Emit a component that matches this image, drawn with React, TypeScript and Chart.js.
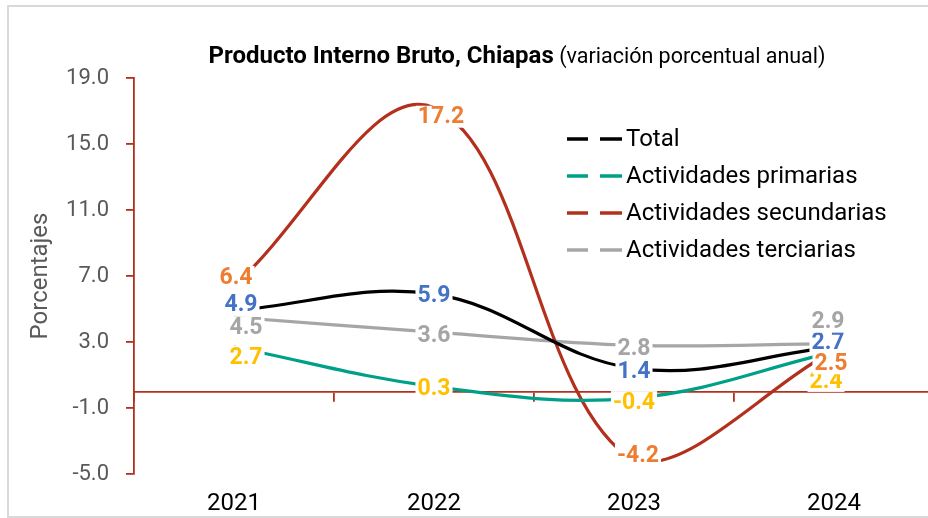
import React, { useEffect, useRef } from "react";
import { Chart, registerables } from "chart.js";

Chart.register(...registerables);

// ---- data ----
const years = ["2021", "2022", "2023", "2024"];
const total = [4.9, 5.9, 1.4, 2.7];
const primarias = [2.7, 0.3, -0.4, 2.4];
const secundarias = [6.4, 17.2, -4.2, 2.5];
const terciarias = [4.5, 3.6, 2.8, 2.9];
const seriesNames = [
  "Total",
  "Actividades primarias",
  "Actividades secundarias",
  "Actividades terciarias",
];
const yTickValues = [-5, -1, 3, 7, 11, 15, 19];
const titleBold = "Producto Interno Bruto, Chiapas";
const titleRegular = " (variación porcentual anual)";
const yTitle = "Porcentajes";

// ---- styles ----
const lineColors = ["#000000", "#00A088", "#B3301C", "#A6A6A6"];
const labelColors = ["#4472C4", "#FFC000", "#ED7D31", "#A5A5A5"];
const axisRed = "#B3301C";
// label offsets (dx, dy) relative to each point
const labelOffsets: number[][][] = [
  [[7, -6], [0, 1], [0, 3], [-6, -5]],
  [[12, 10], [0, 2], [0, 4], [-8, 29]],
  [[2, -9], [7, 9], [4, -6], [-3, 13]],
  [[12, 10], [0, 3], [0, 3], [-6, -22]],
];

const decor = {
  id: "decor",
  afterDatasetsDraw(chart: any) {
    const ctx = chart.ctx;
    ctx.save();
    ctx.font = "bold 23px Roboto";
    ctx.textAlign = "center";
    ctx.textBaseline = "middle";
    chart.data.datasets.forEach((ds: any, i: number) => {
      const meta = chart.getDatasetMeta(i);
      meta.data.forEach((el: any, j: number) => {
        const v = ds.data[j] as number;
        const txt = v.toFixed(1);
        const [dx, dy] = labelOffsets[i][j];
        const x = el.x + dx;
        const y = el.y + dy;
        const w = ctx.measureText(txt).width;
        ctx.fillStyle = "#ffffff";
        ctx.fillRect(x - w / 2 - 2, y - 11, w + 4, 22);
        ctx.fillStyle = labelColors[i];
        ctx.fillText(txt, x, y + 1);
      });
    });
    ctx.restore();
  },
  afterDraw(chart: any) {
    const ctx = chart.ctx;
    ctx.save();
    // title
    ctx.textBaseline = "alphabetic";
    ctx.textAlign = "left";
    ctx.font = "bold 24px Roboto";
    const wb = ctx.measureText(titleBold).width;
    ctx.font = "21.5px Roboto";
    const wr = ctx.measureText(titleRegular).width;
    const tx = 517 - (wb + wr) / 2;
    ctx.fillStyle = "#000";
    ctx.font = "bold 24px Roboto";
    ctx.fillText(titleBold, tx, 63);
    ctx.font = "21.5px Roboto";
    ctx.fillText(titleRegular, tx + wb, 63);

    // y title
    ctx.save();
    ctx.translate(41, 276);
    ctx.rotate(-Math.PI / 2);
    ctx.textAlign = "center";
    ctx.textBaseline = "middle";
    ctx.font = "24px Roboto";
    ctx.fillStyle = "#595959";
    ctx.fillText(yTitle, 0, 0);
    ctx.restore();

    // legend
    ctx.font = "24px Roboto";
    ctx.textBaseline = "middle";
    ctx.textAlign = "left";
    chart.data.datasets.forEach((ds: any, i: number) => {
      const y = 139 + 37 * i;
      ctx.strokeStyle = ds.borderColor;
      ctx.lineWidth = 3.5;
      ctx.beginPath();
      ctx.moveTo(567, y);
      ctx.lineTo(588, y);
      ctx.moveTo(600, y);
      ctx.lineTo(622, y);
      ctx.stroke();
      ctx.fillStyle = "#000";
      ctx.fillText(ds.label, 626, y + 1);
    });
    ctx.restore();
  },
};

export default function App() {
  const ref = useRef<HTMLCanvasElement | null>(null);
  useEffect(() => {
    if (!ref.current) return;
    const series = [total, primarias, secundarias, terciarias];
    const chart = new Chart(ref.current, {
      type: "line",
      data: {
        labels: years,
        datasets: series.map((d, i) => ({
          label: seriesNames[i],
          data: d,
          borderColor: lineColors[i],
          backgroundColor: lineColors[i],
          borderWidth: 3.2,
          pointRadius: 0,
          tension: 0.38,
          fill: false,
        })),
      },
      options: {
        animation: false,
        responsive: false,
        devicePixelRatio: 1,
        layout: { padding: { top: 78, left: 0, right: 6, bottom: 0 } },
        plugins: {
          legend: { display: false },
          title: { display: false },
          tooltip: { enabled: false },
        },
        scales: {
          x: {
            type: "category",
            position: "bottom",
            offset: true,
            grid: { display: false, drawTicks: false },
            border: { display: false },
            ticks: {
              color: "#000",
              font: { family: "Roboto", size: 24 },
              padding: 16,
              maxRotation: 0,
            },
            afterFit: (s: any) => {
              s.height = 44;
            },
          },
          x2: {
            type: "category",
            position: { y: 0 },
            offset: true,
            grid: {
              display: true,
              offset: true,
              drawOnChartArea: false,
              drawTicks: true,
              tickLength: 9,
              color: axisRed,
              lineWidth: 1.8,
            },
            border: { display: true, color: axisRed, width: 1.8 },
            ticks: { display: false },
          },
          y: {
            type: "linear",
            min: -5,
            max: 19,
            afterBuildTicks: (s: any) => {
              s.ticks = yTickValues.map((v) => ({ value: v }));
            },
            grid: {
              display: true,
              drawOnChartArea: false,
              drawTicks: true,
              tickLength: 8,
              color: axisRed,
              lineWidth: 1.8,
            },
            border: { display: true, color: axisRed, width: 1.8 },
            ticks: {
              color: "#595959",
              font: { family: "Roboto", size: 22 },
              padding: 17,
              callback: (v: any) => Number(v).toFixed(1),
            },
            afterFit: (s: any) => {
              s.width = 134;
            },
          },
        },
      },
      plugins: [decor],
    });
    return () => chart.destroy();
  }, []);

  return (
    <>
      <style>{"html,body{overflow:hidden;}"}</style>
      <div
        style={{
          position: "absolute",
          left: 7,
          top: 5,
          width: 1000,
          height: 513,
          border: "2px solid #d9d9d9",
          boxSizing: "border-box",
        }}
      />
      <canvas
        ref={ref}
        width={940}
        height={518}
        style={{ position: "absolute", left: 0, top: 0, width: 940, height: 518 }}
      />
    </>
  );
}
